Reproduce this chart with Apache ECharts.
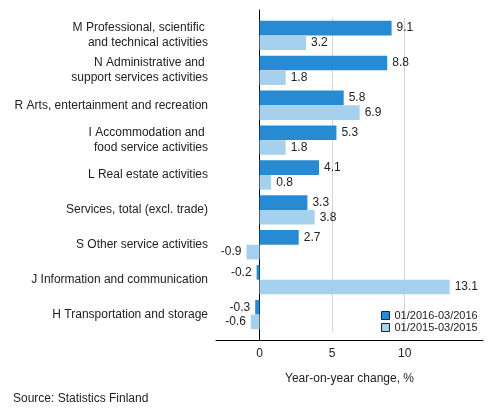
<!DOCTYPE html>
<html>
<head>
<meta charset="utf-8">
<script src="https://cdn.jsdelivr.net/npm/echarts@6/dist/echarts.min.js"></script>
<style>
  html, body { margin: 0; padding: 0; background: #fff; }
  #view { width: 493px; height: 416px; }
</style>
</head>
<body>
<div id="view"></div>
<script>
var categories = [
    'M Professional, scientific \nand technical activities',
    'N Administrative and \nsupport services activities',
    'R Arts, entertainment and recreation',
    'I Accommodation and \nfood service activities',
    'L Real estate activities',
    'Services, total (excl. trade)',
    'S Other service activities',
    'J Information and communication',
    'H Transportation and storage'
];
var seriesNames = ['01/2016-03/2016', '01/2015-03/2015'];
var values2016 = [9.1, 8.8, 5.8, 5.3, 4.1, 3.3, 2.7, -0.2, -0.3];
var values2015 = [3.2, 1.8, 6.9, 1.8, 0.8, 3.8, -0.9, 13.1, -0.6];
var tickValues = [0, 5, 10];
var gridValues = [5, 10];

var font = "'Liberation Sans', Arial, sans-serif";
var xMin = -3, xMax = 15.4;

// positive labels go right of the bar, negative ones left
function withLabels(vals) {
    return vals.map(function(v) {
        return {value: v, label: {position: v < 0 ? 'left' : 'right'}};
    });
}

var chart = echarts.init(document.getElementById('view'));
chart.setOption({
    animation: false,
    textStyle: {fontFamily: font},
    // grid 0 holds the bars, grid 1 the frame (axis, zero line)
    grid: [
        {left: 216, right: 10, top: 18, bottom: 84},
        {left: 216, right: 10, top: 10, bottom: 76}
    ],
    legend: {
        orient: 'vertical',
        left: 376, top: 305,
        itemWidth: 8, itemHeight: 8, itemGap: 1,
        icon: 'rect',
        itemStyle: {borderColor: '#222', borderWidth: 1},
        textStyle: {fontSize: 11, color: '#222', fontFamily: font},
        data: seriesNames
    },
    xAxis: [
        {gridIndex: 0, type: 'value', min: xMin, max: xMax, show: false},
        {
            gridIndex: 1, type: 'value',
            min: xMin, max: xMax,
            axisLine: {show: true, lineStyle: {color: '#000'}},
            axisTick: {show: false, customValues: tickValues},
            axisLabel: {customValues: tickValues, fontSize: 12, color: '#222', margin: 8},
            splitLine: {show: false},
            name: 'Year-on-year change, %',
            nameLocation: 'middle',
            nameGap: 33,
            nameTextStyle: {fontSize: 12, color: '#222'}
        }
    ],
    yAxis: [
        {
            gridIndex: 0,
            type: 'category',
            inverse: true,
            data: categories,
            axisLine: {show: false},
            axisTick: {show: false},
            axisLabel: {fontSize: 12, color: '#222', margin: 8, lineHeight: 15, align: 'right'}
        },
        {
            gridIndex: 1,
            type: 'value', min: 0, max: 1,
            axisLine: {show: true, onZero: true, lineStyle: {color: '#000'}},
            axisTick: {show: false},
            axisLabel: {show: false},
            splitLine: {show: false}
        }
    ],
    series: [
        {
            name: seriesNames[0], type: 'bar',
            xAxisIndex: 0, yAxisIndex: 0,
            data: withLabels(values2016),
            barGap: '0%', barCategoryGap: '16%',
            itemStyle: {color: '#268bd2'},
            label: {show: true, distance: 5, fontSize: 12, color: '#222'},
            // vertical gridlines at 5 and 10
            markLine: {
                silent: true, symbol: 'none', z: 1,
                label: {show: false},
                lineStyle: {color: '#d4d4d4', type: 'solid', width: 1},
                data: gridValues.map(function(v) { return {xAxis: v}; })
            }
        },
        {
            name: seriesNames[1], type: 'bar',
            xAxisIndex: 0, yAxisIndex: 0,
            data: withLabels(values2015),
            barGap: '0%', barCategoryGap: '16%',
            itemStyle: {color: '#a5d1ef'},
            label: {show: true, distance: 5, fontSize: 12, color: '#222'}
        }
    ],
    graphic: [{
        type: 'text', left: 13, top: 393,
        style: {text: 'Source: Statistics Finland', fontSize: 12, fill: '#222', fontFamily: font}
    }]
});
</script>
</body>
</html>
